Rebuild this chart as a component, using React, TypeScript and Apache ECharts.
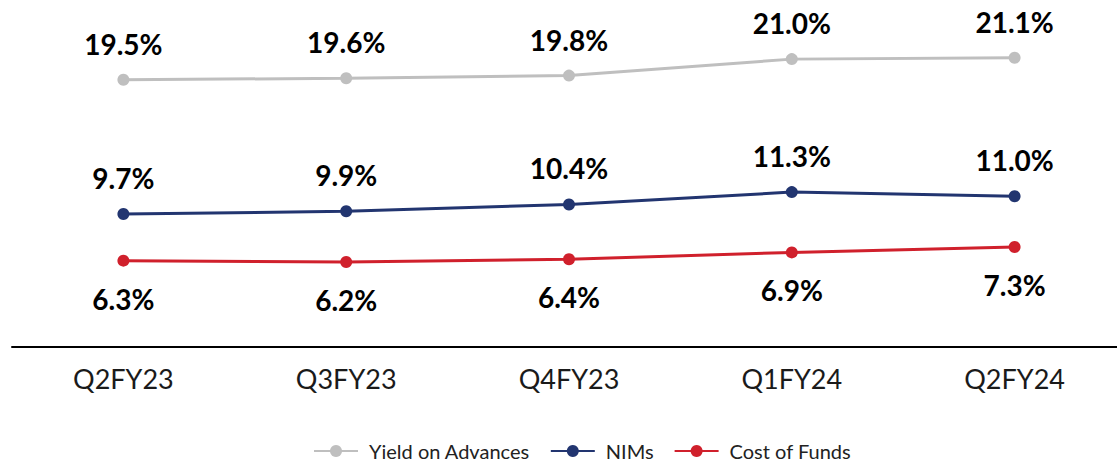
import React, { useEffect, useRef } from "react";
import * as echarts from "echarts";

const categories = ["Q2FY23", "Q3FY23", "Q4FY23", "Q1FY24", "Q2FY24"];
const yieldOnAdvances = [19.5, 19.6, 19.8, 21.0, 21.1];
const nims = [9.7, 9.9, 10.4, 11.3, 11.0];
const costOfFunds = [6.3, 6.2, 6.4, 6.9, 7.3];

const FONT = "Lato, 'Open Sans', sans-serif";

export default function App() {
  const ref = useRef<HTMLDivElement>(null);
  useEffect(() => {
    if (!ref.current) return;
    const chart = echarts.init(ref.current, null, { renderer: "svg" });
    const labelStyle = (pos: "top" | "bottom") => ({
      show: true,
      position: pos,
      distance: pos === "top" ? 16 : 18,
      formatter: (p: any) => Number(p.value).toFixed(1) + "%",
      fontFamily: FONT,
      fontWeight: "bold" as const,
      fontSize: 28,
      color: "#000000",
    });
    const mk = (name: string, data: number[], color: string, pos: "top" | "bottom") => ({
      name,
      type: "line" as const,
      data,
      symbol: "circle",
      symbolSize: 12,
      lineStyle: { color, width: 3 },
      itemStyle: { color },
      label: labelStyle(pos),
    });
    chart.setOption({
      animation: false,
      textStyle: { fontFamily: FONT },
      grid: { left: 12, width: 1114, top: 18, height: 329, outerBoundsMode: "none" },
      xAxis: {
        type: "category",
        data: categories,
        boundaryGap: true,
        axisLine: { show: true, lineStyle: { color: "#000000", width: 2 } },
        axisTick: { show: false },
        axisLabel: { color: "#1a1a1a", fontSize: 27, fontFamily: FONT, margin: 18 },
      },
      yAxis: {
        type: "value",
        min: 0,
        max: 24,
        show: false,
        splitLine: { show: false },
      },
      legend: {
        top: 436,
        left: 308,
        itemWidth: 44,
        itemHeight: 15,
        itemGap: 20,
        textStyle: { fontFamily: FONT, fontSize: 20, color: "#222222", padding: [0, 0, 0, 6] },
        data: ["Yield on Advances", "NIMs", "Cost of Funds"],
      },
      series: [
        mk("Yield on Advances", yieldOnAdvances, "#BFBFBF", "top"),
        mk("NIMs", nims, "#223570", "top"),
        mk("Cost of Funds", costOfFunds, "#D0202C", "bottom"),
      ],
    });
    return () => chart.dispose();
  }, []);
  return (
    <div
      ref={ref}
      style={{ position: "fixed", left: 0, top: 0, width: 1117, height: 467, background: "#ffffff" }}
    />
  );
}
